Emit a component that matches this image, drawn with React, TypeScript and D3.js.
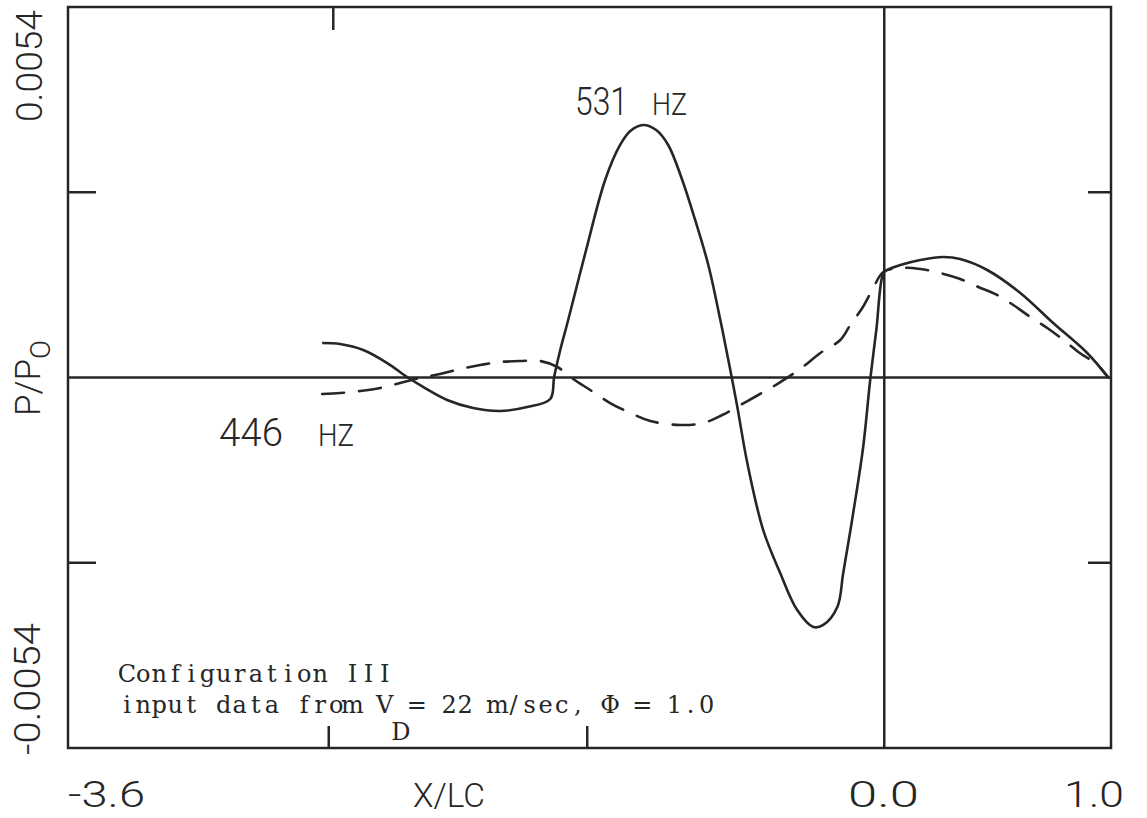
import React from "react";
import * as d3 from "d3";

// X/LC positions and P/P0 values (x 1e-3)
const x531 = [-2.479, -2.400, -2.298, -2.192, -2.104, -2.034, -1.928, -1.813, -1.694, -1.575, -1.473, -1.456, -1.429, -1.394, -1.315, -1.231, -1.165, -1.120, -1.063, -1.006, -0.953, -0.891, -0.834, -0.776, -0.723, -0.679, -0.648, -0.604, -0.534, -0.459, -0.384, -0.313, -0.269, -0.207, -0.181, -0.137, -0.093, -0.062, -0.035, -0.004, 0.013, 0.071, 0.159, 0.260, 0.335, 0.454, 0.600, 0.745, 0.895, 0.988];
const y531 = [0.503, 0.488, 0.401, 0.211, 0.007, -0.138, -0.328, -0.445, -0.488, -0.430, -0.313, 0.007, 0.401, 0.838, 1.858, 2.879, 3.389, 3.593, 3.680, 3.607, 3.389, 2.879, 2.296, 1.640, 0.838, 0.109, -0.430, -1.246, -2.223, -2.849, -3.389, -3.636, -3.607, -3.345, -2.849, -1.975, -1.013, -0.036, 0.692, 1.523, 1.567, 1.640, 1.713, 1.756, 1.727, 1.567, 1.232, 0.794, 0.357, 0.0];

const x446 = [-2.479, -2.400, -2.311, -2.223, -2.135, -2.047, -1.959, -1.870, -1.782, -1.694, -1.606, -1.517, -1.442, -1.372, -1.297, -1.209, -1.120, -1.032, -0.900, -0.798, -0.715, -0.635, -0.556, -0.472, -0.371, -0.282, -0.194, -0.150, -0.097, -0.053, -0.004, 0.071, 0.159, 0.247, 0.335, 0.415, 0.498, 0.569, 0.644, 0.719, 0.790, 0.856, 0.940, 0.988];
const y446 = [-0.240, -0.226, -0.197, -0.153, -0.080, -0.007, 0.051, 0.124, 0.182, 0.226, 0.240, 0.240, 0.153, -0.022, -0.182, -0.372, -0.517, -0.634, -0.692, -0.663, -0.547, -0.401, -0.255, -0.095, 0.124, 0.357, 0.547, 0.765, 1.013, 1.275, 1.538, 1.596, 1.581, 1.523, 1.436, 1.319, 1.202, 1.057, 0.882, 0.721, 0.547, 0.372, 0.182, 0.0];

const xDomain = [-3.6, 1.0];
const yDomain = [-0.0054, 0.0054];
const yTickLabels = ["-0.0054", "0.0054"];
const xTickLabels = ["-3.6", "0.0", "1.0"];
const yMinorTicks = [-0.0027, 0.0027];
const xBottomTicks = [-2.45, -1.31];
const xTopTicks = [-2.43];

const noteLine1 = "Configuration III";
const noteLine2a = "input data from V";
const noteSub = "D";
const noteLine2b = "= 22 m/sec, Φ = 1.0";

const W = 1147, H = 818;
const L = 68, R = 1111, T = 7, B = 748;
const ink = "#262626";

function cells(str: string, startCell: number, x0: number, pitch: number) {
  return Array.from(str)
    .map((_, i) => (x0 + (startCell + i) * pitch + pitch / 2).toFixed(2))
    .join(" ");
}

export default function App() {
  const x = d3.scaleLinear().domain(xDomain).range([L, R]);
  const y = d3.scaleLinear().domain(yDomain).range([B, T]);
  const line = d3
    .line<[number, number]>()
    .x((d) => x(d[0]))
    .y((d) => y(d[1] * 1e-3))
    .curve(d3.curveCatmullRom.alpha(0.5));
  const d531 = line(x531.map((v, i) => [v, y531[i]] as [number, number])) || "";
  const d446 = line(x446.map((v, i) => [v, y446[i]] as [number, number])) || "";

  const plotFont = "Roboto, 'DejaVu Sans', sans-serif";
  const typeFont = "'DejaVu Serif', 'Liberation Serif', serif";
  const pitch = 16.1;
  const nx = 119;

  return (
    <svg width={W} height={H} style={{ position: "absolute", left: 0, top: 0, background: "#fff" }}>
      <rect x={0} y={0} width={W} height={H} fill="#fff" />
      {/* frame */}
      <rect x={L} y={T} width={R - L} height={B - T} fill="none" stroke={ink} strokeWidth={2.5} />
      {/* zero lines */}
      <line x1={L} x2={R} y1={y(0)} y2={y(0)} stroke={ink} strokeWidth={2.5} />
      <line x1={x(0)} x2={x(0)} y1={T} y2={B} stroke={ink} strokeWidth={2.5} />
      {/* ticks */}
      {yMinorTicks.map((t, i) => (
        <g key={"yt" + i}>
          <line x1={L} x2={L + 28} y1={y(t)} y2={y(t)} stroke={ink} strokeWidth={2.5} />
          <line x1={R - 23} x2={R} y1={y(t)} y2={y(t)} stroke={ink} strokeWidth={2.5} />
        </g>
      ))}
      {xBottomTicks.map((t, i) => (
        <line key={"xb" + i} x1={x(t)} x2={x(t)} y1={B} y2={B - 22} stroke={ink} strokeWidth={2.5} />
      ))}
      {xTopTicks.map((t, i) => (
        <line key={"xt" + i} x1={x(t)} x2={x(t)} y1={T} y2={T + 23} stroke={ink} strokeWidth={2.5} />
      ))}
      {/* curves */}
      <path d={d531} fill="none" stroke={ink} strokeWidth={2.6} strokeLinejoin="round" />
      <path d={d446} fill="none" stroke={ink} strokeWidth={2.6} strokeDasharray="22,15" strokeLinecap="round" />

      {/* curve labels */}
      <text x={575} y={115} fontFamily={plotFont} fontWeight={300} fontSize={38} fill={ink} textLength={53} lengthAdjust="spacingAndGlyphs">531</text>
      <text x={652} y={115} fontFamily={plotFont} fontWeight={300} fontSize={31} fill={ink} textLength={35} lengthAdjust="spacingAndGlyphs">HZ</text>
      <text x={219} y={446} fontFamily={plotFont} fontWeight={300} fontSize={38} fill={ink} textLength={64} lengthAdjust="spacingAndGlyphs">446</text>
      <text x={318} y={446} fontFamily={plotFont} fontWeight={300} fontSize={31} fill={ink} textLength={36} lengthAdjust="spacingAndGlyphs">HZ</text>

      {/* y axis labels */}
      <text transform="translate(42,66) rotate(-90)" textAnchor="middle" fontFamily={plotFont} fontWeight={300} fontSize={37} fill={ink} textLength={112} lengthAdjust="spacingAndGlyphs">{yTickLabels[1]}</text>
      <text transform="translate(40,689) rotate(-90)" textAnchor="middle" fontFamily={plotFont} fontWeight={300} fontSize={37} fill={ink} textLength={132} lengthAdjust="spacingAndGlyphs">{yTickLabels[0]}</text>
      <text transform="translate(40,416) rotate(-90)" fontFamily={plotFont} fontWeight={300} fontSize={35} fill={ink}>
        P/P<tspan dy={10} fontSize={28}>O</tspan>
      </text>

      {/* x axis labels */}
      <text x={68} y={807} fontFamily={plotFont} fontWeight={300} fontSize={36} fill={ink} textLength={77} lengthAdjust="spacingAndGlyphs">{xTickLabels[0]}</text>
      <text x={848} y={807} fontFamily={plotFont} fontWeight={300} fontSize={36} fill={ink} textLength={71} lengthAdjust="spacingAndGlyphs">{xTickLabels[1]}</text>
      <text x={1064} y={807} fontFamily={plotFont} fontWeight={300} fontSize={36} fill={ink} textLength={60} lengthAdjust="spacingAndGlyphs">{xTickLabels[2]}</text>
      <text x={413} y={807} fontFamily={plotFont} fontWeight={300} fontSize={34} fill={ink} textLength={72} lengthAdjust="spacingAndGlyphs">X/LC</text>

      {/* annotation, typewriter pitch */}
      <g fontFamily={typeFont} fontSize={24} fill={ink} textAnchor="middle">
        <text x={cells(noteLine1, 0, nx, pitch)} y={682}>{noteLine1}</text>
        <text x={cells(noteLine2a, 0, nx, pitch)} y={713}>{noteLine2a}</text>
        <text x={cells(noteSub, noteLine2a.length, nx, pitch)} y={740}>{noteSub}</text>
        <text x={cells(noteLine2b, noteLine2a.length + 1, nx, pitch)} y={713}>{noteLine2b}</text>
      </g>
    </svg>
  );
}
